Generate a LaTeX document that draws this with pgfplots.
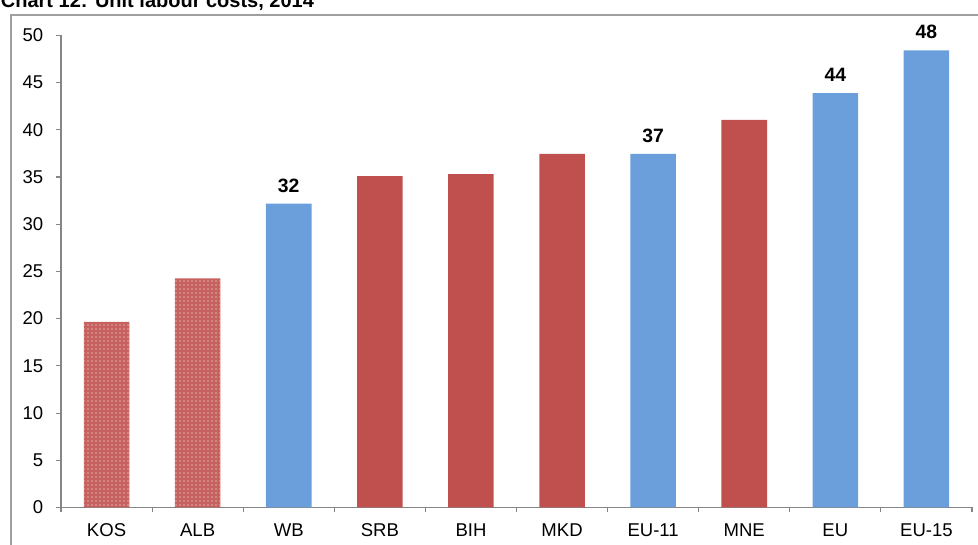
\documentclass[border=0pt]{standalone}
\usepackage{pgfplots}
\pgfplotsset{compat=1.18}
\usepackage{fontspec}
\setmainfont{Liberation Sans}
\usetikzlibrary{patterns}
\definecolor{cred}{HTML}{C0504D}
\definecolor{cblue}{HTML}{6A9FDB}
\definecolor{axgray}{HTML}{868686}
\begin{document}
\begin{tikzpicture}
\useasboundingbox (0,0) rectangle (733.5pt,-408.75pt);
\clip (0,0) rectangle (733.5pt,-408.75pt);
\node[anchor=base west, inner sep=0pt, font=\fontsize{15}{18}\selectfont\bfseries] at (0.5pt,-6pt) {Chart 12: Unit labour costs, 2014};
\draw[gray!75, line width=1.4pt] (8.25pt,-430pt) -- (8.25pt,-11.25pt) -- (760pt,-11.25pt);
\begin{axis}[
  at={(45.75pt,-380.6pt)}, anchor=south west,
  scale only axis, width=683.25pt, height=354.1pt,
  xmin=-0.5, xmax=9.5, ymin=0, ymax=50,
  axis x line*=bottom, axis y line*=left,
  axis line style={axgray, line width=0.8pt},
  xtick={0,...,9},
  xticklabels={KOS,ALB,WB,SRB,BIH,MKD,EU-11,MNE,EU,EU-15},
  minor xtick={-0.5,0.5,...,9.5},
  ytick={0,5,...,50},
  tick align=outside,
  major tick length=3.75pt, minor tick length=3.75pt,
  major x tick style={draw=none},
  tick style={axgray, line width=0.8pt},
  minor tick style={axgray, line width=0.8pt},
  ticklabel style={font=\fontsize{13.9}{16}\selectfont},
  /pgf/number format/assume math mode=true,
  yticklabel style={xshift=-6pt},
  xticklabel style={yshift=-5pt},
  ybar, bar width=0.5,
  clip=false,
  nodes near coords style={font=\fontsize{14.5}{17}\selectfont\bfseries, anchor=south, yshift=5pt},
]
\addplot[bar shift=0pt, draw=none, fill=cred!90!white, postaction={pattern=dots, pattern color=white}] coordinates {(0,19.65) (1,24.25)};
\addplot[bar shift=0pt, draw=none, fill=cred] coordinates {(3,35.1) (4,35.3) (5,37.44) (7,41.04)};
\addplot[bar shift=0pt, draw=none, fill=cblue, nodes near coords={\pgfmathprintnumber[fixed,precision=0]{\pgfplotspointmeta}}] coordinates {(2,32.17) (6,37.44) (8,43.88) (9,48.4)};
\end{axis}
\end{tikzpicture}
\end{document}
